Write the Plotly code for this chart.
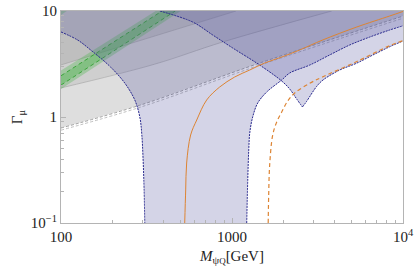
import plotly.graph_objects as go

# ---------------- data (M in GeV, Gamma) ----------------
# blue region 1: left (decreasing) boundary and right (increasing) boundary
L1_M = [100, 125, 149, 195, 236, 270, 289, 297, 305, 309]
L1_G = [6.34, 5.33, 4.29, 2.96, 2.09, 1.45, 1.0, 0.676, 0.2545, 0.1]
R1_M = [1219, 1236, 1253, 1270, 1321, 1414, 1596, 1953, 2175, 2848, 3727, 4880, 6388, 8360, 10000]
R1_G = [0.1, 0.2545, 0.489, 0.706, 1.0, 1.356, 1.722, 2.234, 2.60, 3.09, 3.85, 4.78, 5.68, 6.62, 7.25]

# blue region 2: decreasing branch down to the notch, then increasing branch
D2_M = [378, 589, 771, 1009, 1452, 1953, 2175, 2389, 2580]
D2_G = [10.0, 7.87, 5.94, 4.48, 3.09, 2.186, 1.837, 1.479, 1.243]
R2_M = [2580, 2723, 3116, 3406, 4265, 5340, 6677, 8360, 10000]
R2_G = [1.243, 1.394, 1.931, 2.234, 2.776, 3.21, 3.85, 4.60, 5.21]

# orange curves
OS_M = [529, 536, 543, 573, 622, 711, 847, 1037, 1270, 1553, 1953, 2489, 3392, 5361, 8360, 10000]
OS_G = [0.1, 0.205, 0.368, 0.676, 0.937, 1.447, 1.918, 2.385, 2.776, 3.23, 3.68, 4.29, 5.33, 7.06, 8.97, 9.9]
OD_M = [1628, 1639, 1661, 1730, 1826, 1953, 2117, 2327, 2848, 3406, 5340, 8360, 10000]
OD_G = [0.1, 0.1837, 0.3524, 0.676, 0.897, 1.114, 1.416, 1.684, 2.08, 2.40, 3.32, 4.71, 5.25]

# grey bands: lower edges
G1_M = [100, 293, 1452, 10000]
G1_G = [0.787, 1.30, 3.23, 8.95]
G2_M = [100, 353, 882, 3830]
G2_G = [1.88, 3.15, 5.10, 10.0]
G3_M = [100, 1054]
G3_G = [3.10, 10.0]

# green band: outer edges and inner dashed edges
GRo_up_M = [100, 358];  GRo_up_G = [2.75, 10.0]
GRo_lo_M = [100, 501];  GRo_lo_G = [1.84, 10.0]
GRi_up_M = [100, 390];  GRi_up_G = [2.45, 10.0]
GRi_lo_M = [100, 466];  GRi_lo_G = [2.00, 10.0]
GR2_M = [100, 108];     GR2_G = [9.17, 10.0]

# axes
X_MIN, X_MAX = 100, 10000
Y_MIN, Y_MAX = 0.1, 10
XTICKS = [100, 1000, 10000]
XTICKTEXT = ["100", "1000", "10<sup>4</sup>"]
YTICKS = [0.1, 1, 10]
YTICKTEXT = ["10<sup>\u22121</sup>", "1", "10"]
XMINOR = [200, 300, 400, 500, 600, 700, 800, 900, 2000, 3000, 4000, 5000, 6000, 7000, 8000, 9000]
YMINOR = [0.2, 0.3, 0.4, 0.5, 0.6, 0.7, 0.8, 0.9, 2, 3, 4, 5, 6, 7, 8, 9]

FONT = "Liberation Serif"
GREY_FILL = ["rgba(0,0,0,0.13)", "rgba(0,0,0,0.065)", "rgba(0,0,0,0.075)"]
BLUE_FILL = "rgba(85,85,160,0.25)"
BLUE_LINE = "#2b2b8f"
GREEN_FILL = "rgba(60,180,60,0.30)"
GREEN_LINE = "rgba(50,160,50,0.9)"
ORANGE = "#dd8433"

fig = go.Figure()


def poly(xs, ys, color):
    fig.add_trace(go.Scatter(x=xs, y=ys, fill="toself", fillcolor=color, mode="none",
                             hoverinfo="skip", showlegend=False))


def curve(xs, ys, color, width=1, dash="solid", shape="spline"):
    fig.add_trace(go.Scatter(x=xs, y=ys, mode="lines",
                             line=dict(color=color, width=width, dash=dash, shape=shape),
                             hoverinfo="skip", showlegend=False))


# grey bands (region above each edge)
for (gm, gg), col in zip([(G1_M, G1_G), (G2_M, G2_G), (G3_M, G3_G)], GREY_FILL):
    xs = list(gm) + [X_MAX, X_MIN]
    ys = list(gg) + [Y_MAX, Y_MAX]
    if gm[-1] < X_MAX:
        xs = list(gm) + [X_MIN]
        ys = list(gg) + [Y_MAX]
    poly(xs, ys, col)
curve(G1_M, G1_G, "rgba(150,150,150,0.9)", 1, "3px,2px", "spline")
curve(G1_M, [g * 0.955 for g in G1_G], "rgba(175,175,175,0.8)", 1, "3px,2px", "spline")
curve(G2_M, G2_G, "rgba(160,160,160,0.6)", 1, "solid", "spline")
curve(G3_M, G3_G, "rgba(160,160,160,0.6)", 1, "solid", "linear")

# green band
poly(GRo_up_M + GRo_lo_M[::-1], GRo_up_G + GRo_lo_G[::-1], GREEN_FILL)
poly(GRi_up_M + GRi_lo_M[::-1], GRi_up_G + GRi_lo_G[::-1], GREEN_FILL)
poly(GR2_M + [X_MIN], GR2_G + [Y_MAX], GREEN_FILL)
curve(GRi_up_M, GRi_up_G, GREEN_LINE, 1, "4px,3px", "linear")
curve(GRi_lo_M, GRi_lo_G, GREEN_LINE, 1, "4px,3px", "linear")

# blue region 1
poly(L1_M + R1_M + [X_MAX, X_MIN], L1_G + R1_G + [Y_MAX, Y_MAX], BLUE_FILL)
# blue region 2
poly(D2_M + R2_M[1:] + [X_MAX], D2_G + R2_G[1:] + [Y_MAX], BLUE_FILL)

for xs, ys in [(L1_M, L1_G), (R1_M, R1_G), (D2_M, D2_G), (R2_M, R2_G)]:
    curve(xs, ys, BLUE_LINE, 1, "2px,1px")

# orange curves
curve(OS_M, OS_G, ORANGE, 1, "solid")
curve(OD_M, OD_G, ORANGE, 1.2, "4px,3px")

axis_common = dict(
    type="log", showgrid=False, zeroline=False, showline=True, mirror=True, automargin=False,
    linecolor="#b4b4b4", linewidth=1, ticks="inside", ticklen=5, tickcolor="#b4b4b4",
    tickfont=dict(family=FONT, size=15, color="#222"),
)
fig.update_xaxes(range=[2, 4], tickmode="array", tickvals=XTICKS, ticktext=XTICKTEXT,
                 minor=dict(ticks="inside", ticklen=3, tickcolor="#b4b4b4", tickvals=XMINOR),
                 title=dict(text="<i>M</i><sub>\u03c8<span style='font-size:9px'>Q</span></sub>[GeV]",
                            font=dict(family=FONT, size=15, color="#222"), standoff=6),
                 **axis_common)
fig.update_yaxes(range=[-1, 1], tickmode="array", tickvals=YTICKS, ticktext=YTICKTEXT,
                 minor=dict(ticks="inside", ticklen=3, tickcolor="#b4b4b4", tickvals=YMINOR),
                 title=dict(text="\u0393<sub>\u03bc</sub>",
                            font=dict(family=FONT, size=15, color="#222"), standoff=4),
                 **axis_common)

fig.update_layout(width=415, height=276, margin=dict(l=61, r=12, t=11, b=53),
                  paper_bgcolor="white", plot_bgcolor="white", showlegend=False)

# remove the default 8px page margin so the figure sits at the window's corner
fig.write_html("out.html", config={"displayModeBar": False, "staticPlot": True},
               post_script="document.body.style.margin='0';")
